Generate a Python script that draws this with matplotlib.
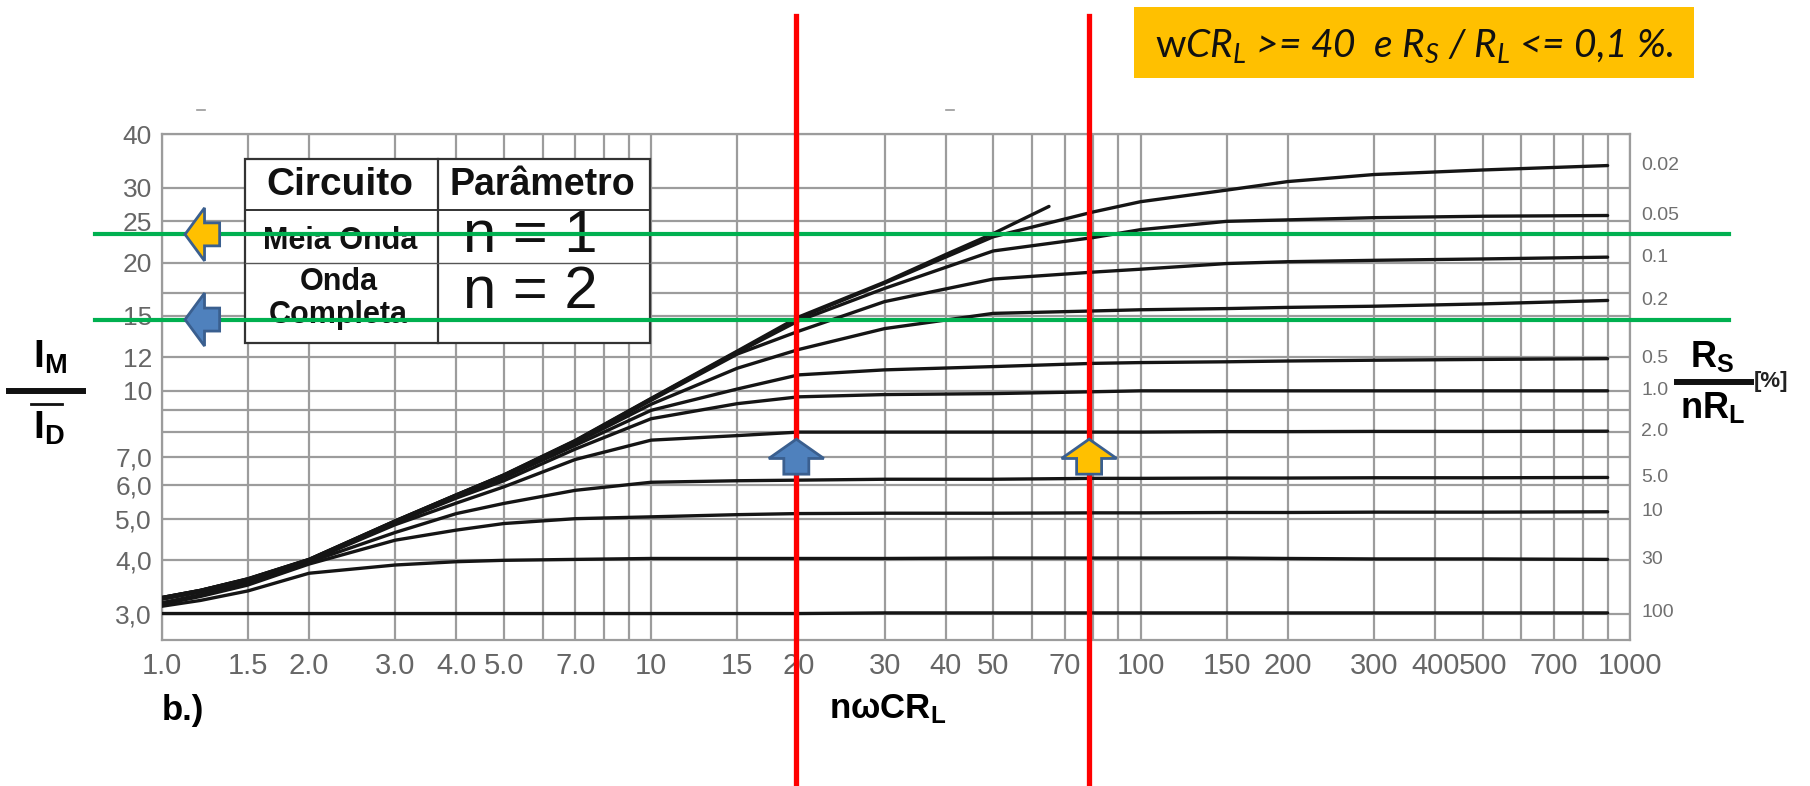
import matplotlib
matplotlib.use("Agg")
import matplotlib.pyplot as plt
import matplotlib.transforms as mtransforms
from matplotlib.patches import Polygon, Rectangle
from matplotlib.lines import Line2D
from matplotlib.ticker import FixedLocator, FixedFormatter, NullLocator
from matplotlib import font_manager

W, H = 1810, 786

plt.rcParams["mathtext.fontset"] = "custom"
plt.rcParams["mathtext.rm"] = "Lato"
plt.rcParams["mathtext.it"] = "Lato:italic"
plt.rcParams["mathtext.bf"] = "Liberation Sans:bold"

names = {f.name for f in font_manager.fontManager.ttflist}
tick_font = "Liberation Sans Narrow" if "Liberation Sans Narrow" in names else "Liberation Sans"
bold_font = "Liberation Sans"

# grid lines and their labels
x_grid = [1, 1.5, 2, 3, 4, 5, 6, 7, 8, 9, 10, 15, 20, 30, 40, 50, 60, 70, 80, 90,
          100, 150, 200, 300, 400, 500, 600, 700, 800, 900, 1000]
x_grid_text = ["1.0", "1.5", "2.0", "3.0", "4.0", "5.0", "", "7.0", "", "", "10", "15", "20",
               "30", "40", "50", "", "70", "", "", "100", "150", "200", "300", "400", "500",
               "", "700", "", "", "1000"]
y_grid = [3, 4, 5, 6, 7, 8, 9, 10, 12, 15, 17, 20, 25, 30, 40]
y_grid_text = ["3,0", "4,0", "5,0", "6,0", "7,0", "", "", "10", "12", "15", "", "20", "25", "30", "40"]

# I_M/I_D curves, one per Rs/nRL value [%]
x_pts = [1.0, 1.2, 1.5, 2, 3, 4, 5, 7, 10, 15, 20, 30, 50, 80, 100, 150, 200, 300, 500, 900]
r002 = [3.27, 3.40, 3.62, 4.02, 4.95, 5.70, 6.34, 7.63, 9.58, 12.35, 14.8, 17.9, 23.0, 26.3, 27.8, 29.6, 31.0, 32.2, 33.0, 33.8]
r005 = [3.27, 3.40, 3.61, 4.01, 4.94, 5.69, 6.33, 7.62, 9.55, 12.3, 14.6, 17.4, 21.3, 22.9, 23.9, 25.0, 25.2, 25.5, 25.7, 25.8]
r01 = [3.26, 3.39, 3.61, 4.01, 4.93, 5.68, 6.32, 7.60, 9.5, 12.2, 13.8, 16.2, 18.3, 19.0, 19.3, 19.9, 20.1, 20.25, 20.4, 20.6]
r02 = [3.26, 3.39, 3.60, 4.00, 4.92, 5.67, 6.30, 7.55, 9.3, 11.3, 12.5, 14.0, 15.2, 15.4, 15.5, 15.6, 15.7, 15.8, 16.0, 16.3]
r05 = [3.25, 3.38, 3.60, 4.00, 4.92, 5.65, 6.25, 7.45, 9.0, 10.1, 10.9, 11.2, 11.4, 11.6, 11.65, 11.7, 11.75, 11.8, 11.85, 11.9]
r1 = [3.25, 3.38, 3.59, 3.99, 4.90, 5.60, 6.15, 7.30, 8.6, 9.33, 9.68, 9.8, 9.85, 9.95, 10.0, 10.0, 10.0, 10.0, 10.0, 10.0]
r2 = [3.24, 3.37, 3.58, 3.98, 4.85, 5.45, 5.95, 6.90, 7.66, 7.85, 8.0, 8.0, 8.0, 8.0, 8.0, 8.02, 8.02, 8.03, 8.03, 8.04]
r5 = [3.18, 3.32, 3.54, 3.96, 4.65, 5.15, 5.44, 5.84, 6.1, 6.15, 6.17, 6.2, 6.2, 6.23, 6.23, 6.24, 6.24, 6.25, 6.25, 6.26]
r10 = [3.15, 3.29, 3.50, 3.92, 4.46, 4.71, 4.88, 5.01, 5.06, 5.12, 5.15, 5.16, 5.16, 5.17, 5.17, 5.18, 5.18, 5.19, 5.19, 5.2]
r30 = [3.12, 3.22, 3.39, 3.73, 3.90, 3.97, 4.00, 4.02, 4.04, 4.04, 4.04, 4.04, 4.05, 4.05, 4.05, 4.05, 4.04, 4.03, 4.03, 4.02]
r100 = [3.0, 3.0, 3.0, 3.0, 3.0, 3.0, 3.0, 3.0, 3.0, 3.0, 3.0, 3.01, 3.01, 3.01, 3.01, 3.01, 3.01, 3.01, 3.01, 3.01]
rs_names = ["0.02", "0.05", "0.1", "0.2", "0.5", "1.0", "2.0", "5.0", "10", "30", "100"]
rs_curves = [r002, r005, r01, r02, r05, r1, r2, r5, r10, r30, r100]

# curve without series resistance, stops short
env_x = [1.0, 1.2, 1.5, 2, 3, 4, 5, 7, 10, 15, 20, 30, 40, 50, 65]
env_y = [3.27, 3.40, 3.62, 4.02, 4.95, 5.70, 6.35, 7.65, 9.6, 12.4, 14.9, 18.0, 20.9, 23.4, 27.1]

# design marks
red_x = [19.8, 78.5]
green_y = [23.3, 14.7]
left_arrow_fill = ["#FFC000", "#4F81BD"]
up_arrow_fill = ["#4F81BD", "#FFC000"]

fig = plt.figure(figsize=(W / 100, H / 100), dpi=100)
ax = fig.add_axes([161.7 / W, 1 - 640 / H, (1630 - 161.7) / W, (640 - 134.4) / H])
ax.set_xscale("log")
ax.set_yscale("log")
ax.set_xlim(1, 1000)
ax.set_ylim(2.6, 40)

ax.xaxis.set_major_locator(FixedLocator(x_grid))
ax.xaxis.set_major_formatter(FixedFormatter(x_grid_text))
ax.xaxis.set_minor_locator(NullLocator())
ax.yaxis.set_major_locator(FixedLocator(y_grid))
ax.yaxis.set_major_formatter(FixedFormatter(y_grid_text))
ax.yaxis.set_minor_locator(NullLocator())
ax.tick_params(axis="x", length=0, pad=8.4, labelsize=21, labelcolor="#666666",
               labelfontfamily=tick_font)
ax.tick_params(axis="y", length=0, pad=7, labelsize=19, labelcolor="#666666",
               labelfontfamily=tick_font)
ax.grid(True, color="#9c9c9c", lw=1.6)
ax.set_axisbelow(True)
for sp in ax.spines.values():
    sp.set_color("#9c9c9c")
    sp.set_linewidth(1.6)

for yv in rs_curves:
    ax.plot(x_pts, yv, color="#151515", lw=2.4, solid_capstyle="round", zorder=3)
ax.plot(env_x, env_y, color="#151515", lw=2.4, solid_capstyle="round", zorder=3)

side = mtransforms.blended_transform_factory(ax.transAxes, ax.transData)
for name, yv in zip(rs_names, rs_curves):
    ax.text(1.0075, yv[-1], name, transform=side, ha="left", va="center",
            fontsize=14, color="#707070", family=tick_font, clip_on=False)

# pixel coordinates, y downwards
pix = mtransforms.Affine2D().scale(1, -1).translate(0, H)


def ptext(x, y, s, **kw):
    ax.text(x, y, s, transform=pix, clip_on=False, **kw)


def pline(xs, ys, **kw):
    ax.add_line(Line2D(xs, ys, transform=pix, clip_on=False, **kw))


# parameter table
ax.add_patch(Rectangle((244.6, 159), 405, 184, transform=pix, facecolor="white",
                       edgecolor="#333333", lw=1.6, zorder=5, clip_on=False))
pline([437.5, 437.5], [159, 343], color="#333333", lw=1.6, zorder=5)
pline([244.6, 649.6], [210, 210], color="#333333", lw=1.4, zorder=5)
pline([244.6, 649.6], [263, 263], color="#555555", lw=1.0, zorder=5)
tb = dict(family=bold_font, weight="bold", color="#111111", ha="center", va="center", zorder=5.5)
ptext(340, 185, "Circuito", fontsize=28, **tb)
ptext(542, 185, "Parâmetro", fontsize=27, **tb)
ptext(340, 241, "Meia Onda", fontsize=22, **tb)
ptext(339, 282, "Onda", fontsize=22, **tb)
ptext(338, 315, "Completa", fontsize=22, **tb)
ptext(530, 237, "n = 1", fontsize=43, family=bold_font, color="#111111",
      ha="center", va="center", zorder=5.5)
ptext(530, 292, "n = 2", fontsize=43, family=bold_font, color="#111111",
      ha="center", va="center", zorder=5.5)

# axis titles
ptext(33, 367, r"I$_\mathbf{M}$", fontsize=28, family=bold_font, weight="bold",
      ha="left", va="baseline")
pline([9, 83], [391, 391], color="#111111", lw=4.3)
pline([31, 62], [403.5, 403.5], color="#111111", lw=2)
ptext(33, 438, r"I$_\mathbf{D}$", fontsize=28, family=bold_font, weight="bold",
      ha="left", va="baseline")

ptext(1690, 367, r"R$_\mathbf{S}$", fontsize=26, family=bold_font, weight="bold",
      ha="left", va="baseline")
pline([1677, 1751], [382, 382], color="#111111", lw=4.3)
ptext(1680, 418, r"nR$_\mathbf{L}$", fontsize=26, family=bold_font, weight="bold",
      ha="left", va="baseline")
ptext(1754, 381, "[%]", fontsize=16, family=bold_font, weight="bold",
      ha="left", va="center", color="#222222")

ptext(162, 720, "b.)", fontsize=25, family=bold_font, weight="bold", ha="left", va="baseline")
ptext(829, 719, r"nωCR$_\mathbf{L}$", fontsize=25, family=bold_font, weight="bold",
      ha="left", va="baseline")

pline([197, 205], [110, 110], color="#9a9a9a", lw=1.2)
pline([946, 954], [110, 110], color="#9a9a9a", lw=1.2)

# condition box
ax.add_patch(Rectangle((1134, 7), 560, 71, transform=pix, facecolor="#FFC000",
                       edgecolor="none", zorder=5, clip_on=False))
ptext(1414, 57, r"$\mathrm{w}$CR$_L$ >= 40  e R$_S$ / R$_L$ <= 0,1 %.", fontsize=28,
      family="Lato", style="italic", color="#111111", ha="center", va="baseline", zorder=6)

# guide lines
for yv in green_y:
    ax.axhline(yv, xmin=-0.0454, xmax=1.0674, color="#00B050", lw=3, clip_on=False, zorder=6)
for xv in red_x:
    ax.axvline(xv, ymin=-0.289, ymax=1.234, color="#FF0000", lw=3.8, clip_on=False, zorder=7)

left_shape = [(0, 0), (19.5, 26.5), (19.5, 11.5), (34.6, 11.5), (34.6, -11.5),
              (19.5, -11.5), (19.5, -26.5)]
up_shape = [(0, 0), (27.5, -19.3), (12.5, -19.3), (12.5, -35), (-12.5, -35),
            (-12.5, -19.3), (-27.5, -19.3)]


def block_arrow(x, y, shape, face):
    tr = mtransforms.Affine2D() + mtransforms.ScaledTranslation(x, y, ax.transData)
    ax.add_patch(Polygon(shape, closed=True, transform=tr, facecolor=face,
                         edgecolor="#3A5F8F", lw=2, zorder=8, clip_on=False))


for yv, face in zip(green_y, left_arrow_fill):
    block_arrow(1.116, yv, left_shape, face)
for xv, face in zip(red_x, up_arrow_fill):
    block_arrow(xv, 7.7, up_shape, face)

fig.savefig("out.png", dpi=100)
